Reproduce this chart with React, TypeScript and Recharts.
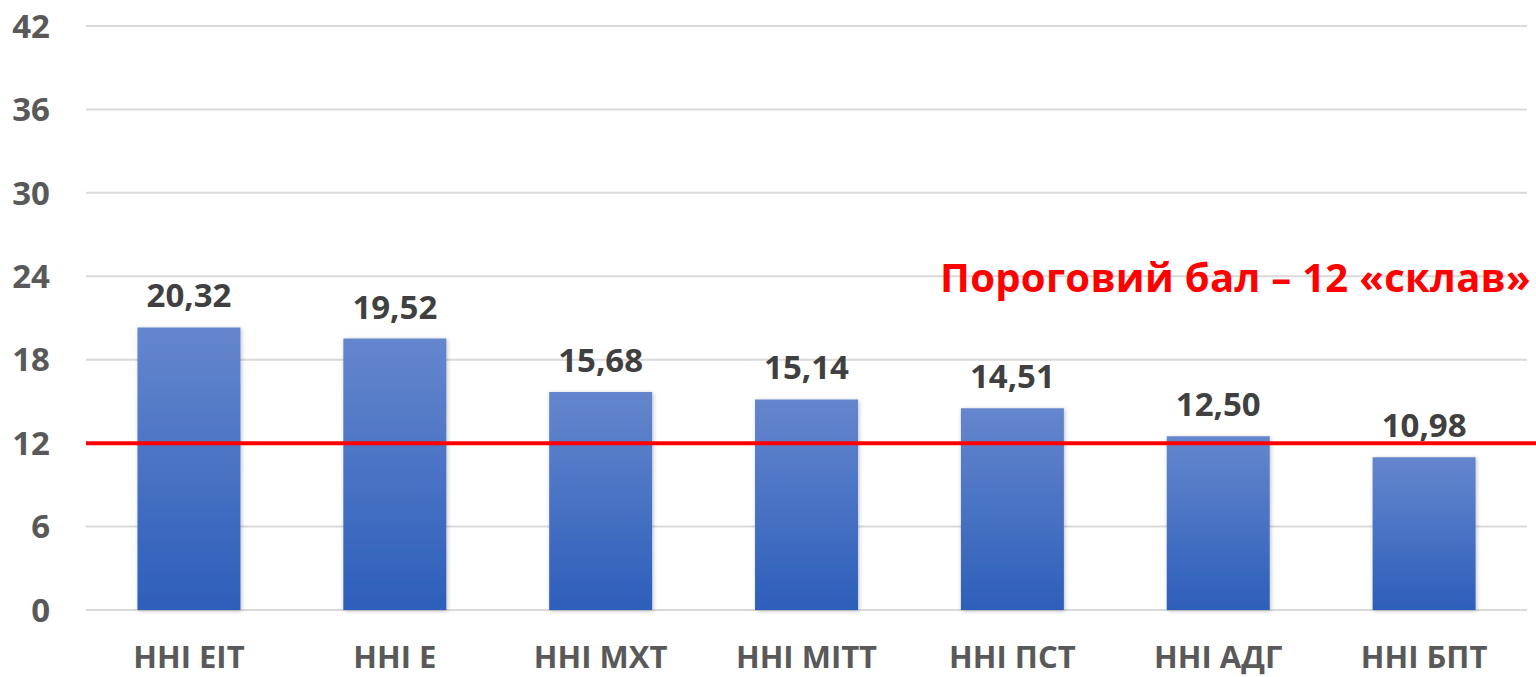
import React from 'react';
import {
  BarChart,
  Bar,
  XAxis,
  YAxis,
  CartesianGrid,
  ReferenceLine,
  LabelList,
} from 'recharts';

const institutes = ['ННІ ЕІТ', 'ННІ Е', 'ННІ МХТ', 'ННІ МІТТ', 'ННІ ПСТ', 'ННІ АДГ', 'ННІ БПТ'];
const scores = [20.32, 19.52, 15.68, 15.14, 14.51, 12.5, 10.98];
const yTicks = [0, 6, 12, 18, 24, 30, 36, 42];
const threshold = 12;
const thresholdText = 'Пороговий бал – 12 «склав»';

const data = institutes.map((name, i) => ({ name, score: scores[i] }));

const FONT = '"Open Sans", "DejaVu Sans", sans-serif';

const ThresholdLabel = (props: any) => {
  const { viewBox } = props;
  if (!viewBox) return null;
  return (
    <text
      x={viewBox.x + viewBox.width + 4}
      y={viewBox.y - 151}
      textAnchor="end"
      fill="#ff0000"
      fontFamily={FONT}
      fontWeight={700}
      fontSize={40}
      letterSpacing={0.3}
    >
      {thresholdText}
    </text>
  );
};

const ThresholdLine = (props: any) => {
  const { x1, x2, y1, y2 } = props;
  return <line x1={x1} x2={x2 + 10} y1={y1} y2={y2} stroke="#ff0000" strokeWidth={4} />;
};

const App: React.FC = () => {
  return (
    <div style={{ position: 'absolute', left: 0, top: 0 }}>
      <BarChart
        width={1536}
        height={677}
        data={data}
        margin={{ top: 26, right: 9, bottom: 0, left: 0 }}
        barCategoryGap="25%"
      >
        <defs>
          <linearGradient id="barFill" x1="0" y1="0" x2="0" y2="1">
            <stop offset="0%" stopColor="#6586cd" />
            <stop offset="100%" stopColor="#2d5fba" />
          </linearGradient>
          <filter id="barShadow" x="-10%" y="-10%" width="120%" height="120%">
            <feDropShadow dx="1" dy="1" stdDeviation="2" floodColor="#000" floodOpacity="0.25" />
          </filter>
        </defs>
        <CartesianGrid vertical={false} stroke="#d9d9d9" strokeWidth={2} />
        <XAxis
          dataKey="name"
          axisLine={false}
          tickLine={false}
          tickSize={0}
          tickMargin={36}
          height={67}
          interval={0}
          tick={{ fill: '#595959', fontFamily: FONT, fontWeight: 700, fontSize: 31 }}
        />
        <YAxis
          domain={[0, 42]}
          ticks={yTicks}
          axisLine={false}
          tickLine={false}
          tickSize={0}
          tickMargin={36}
          width={86}
          tick={{ fill: '#595959', fontFamily: FONT, fontWeight: 700, fontSize: 33 }}
        />
        <Bar dataKey="score" fill="url(#barFill)" filter="url(#barShadow)" isAnimationActive={false}>
          <LabelList
            dataKey="score"
            position="top"
            offset={20}
            fill="#404040"
            fontFamily={FONT}
            fontWeight={700}
            fontSize={33}
            formatter={(v: any) => Number(v).toFixed(2).replace('.', ',')}
          />
        </Bar>
        <ReferenceLine
          y={threshold}
          shape={ThresholdLine}
          label={<ThresholdLabel />}
          ifOverflow="visible"
        />
      </BarChart>
    </div>
  );
};

export default App;
